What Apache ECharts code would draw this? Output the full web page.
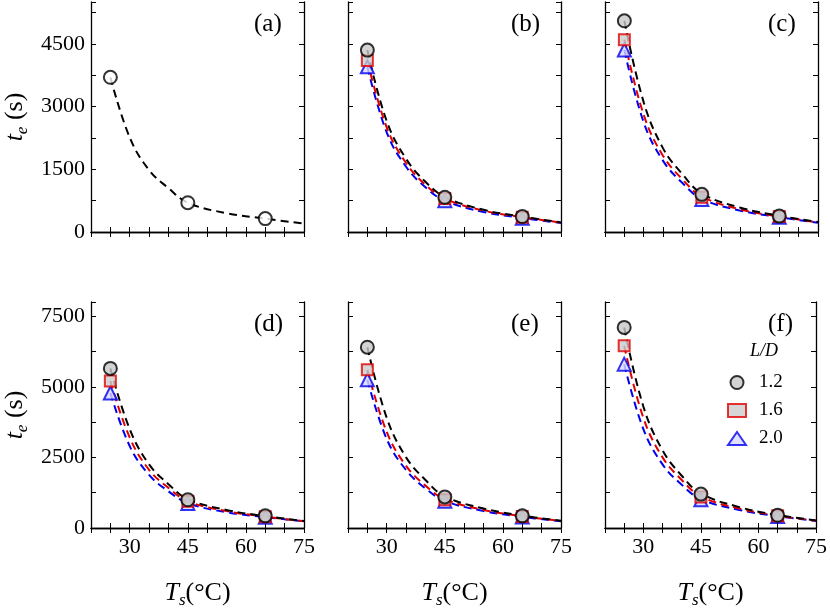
<!DOCTYPE html>
<html><head><meta charset="utf-8">
<script src="https://cdn.jsdelivr.net/npm/echarts@6/dist/echarts.min.js"></script>
<style>html,body{margin:0;padding:0;background:#fff}#c{width:830px;height:610px}</style>
</head><body><div id="c"></div>
<script>
const ptX = [25, 45, 65];
const curveX = [25, 30, 35, 40, 45, 55, 65, 75];
const panels = ['(a)', '(b)', '(c)', '(d)', '(e)', '(f)'];
const seriesNames = ['1.2', '1.6', '2.0'];
// points per panel: [L/D 1.2, 1.6, 2.0]
const pts = [
  [[3700, 700, 320]],
  [[4350, 830, 370], [4100, 800, 350], [3950, 750, 330]],
  [[5050, 900, 380], [4600, 830, 370], [4350, 780, 350]],
  [[5650, 1000, 430], [5200, 950, 400], [4780, 870, 380]],
  [[6400, 1100, 430], [5600, 1000, 410], [5250, 950, 390]],
  [[7100, 1200, 450], [6450, 1100, 430], [5800, 1000, 410]]
];
const curves = [
  [[3700, 2260, 1480, 1050, 700, 450, 320, 200]],
  [[4350, 2650, 1750, 1200, 840, 530, 370, 230], [4100, 2500, 1650, 1130, 800, 510, 355, 225], [3950, 2380, 1560, 1070, 750, 480, 335, 215]],
  [[5050, 3100, 2000, 1380, 920, 580, 390, 240], [4600, 2800, 1820, 1260, 850, 540, 370, 230], [4350, 2620, 1700, 1170, 790, 510, 355, 220]],
  [[5650, 3500, 2250, 1550, 1020, 640, 420, 250], [5200, 3200, 2060, 1420, 950, 600, 400, 240], [4780, 2900, 1880, 1300, 880, 560, 385, 235]],
  [[6400, 3900, 2500, 1700, 1120, 690, 440, 260], [5600, 3400, 2200, 1500, 1020, 640, 415, 250], [5250, 3150, 2050, 1400, 960, 600, 395, 240]],
  [[7100, 4300, 2750, 1850, 1220, 740, 460, 270], [6450, 3900, 2500, 1700, 1120, 690, 440, 260], [5800, 3500, 2250, 1530, 1020, 640, 420, 250]]
];
const FONT = 'Liberation Serif';
const lineColors = ['#000', '#e00000', '#0000ee'];
const symbols = ['circle', 'rect', 'triangle'];
const fills = ['#c8c8c8', '#cccccc', '#d8d8ff'];
const lefts = [91, 348, 605], tops = [2, 302];
const W = 213, H = 230;
const grids = [], xAxes = [], yAxes = [], series = [], graphics = [];
const axisLine = {show: true, lineStyle: {color: '#000', width: 1.3}};
for (let p = 0; p < 6; p++) {
  const row = Math.floor(p / 3), col = p % 3;
  grids.push({left: lefts[col], top: tops[row], width: W, height: H});
  const showX = row === 1, showY = col === 0;
  const ymax = row === 0 ? 5500 : 8000, yint = row === 0 ? 750 : 1250, ylab = row === 0 ? 1500 : 2500;
  const xBase = {type: 'value', gridIndex: p, min: 20, max: 75, interval: 5, splitLine: {show: false},
    axisLine, axisTick: {inside: true, length: 5, lineStyle: {color: '#000'}}};
  xAxes.push(Object.assign({}, xBase, {position: 'bottom',
    axisLabel: {show: showX, fontFamily: FONT, fontSize: 22, color: '#000', margin: 8,
      formatter: v => (v % 15 === 0 && v >= 30) ? String(v) : ''},
    name: showX ? '{i|T}{s|s}{n|(°C)}' : '', nameLocation: 'middle', nameGap: 50,
    nameTextStyle: {rich: {i: {fontFamily: FONT, fontStyle: 'italic', fontSize: 26, color: '#000'},
      s: {fontFamily: FONT, fontStyle: 'italic', fontSize: 17, verticalAlign: 'bottom', padding: [14, 0, 0, 0], color: '#000'},
      n: {fontFamily: FONT, fontSize: 26, color: '#000'}}}}));
  xAxes.push(Object.assign({}, xBase, {position: 'top', axisLabel: {show: false}}));
  const yBase = {type: 'value', gridIndex: p, min: 0, max: ymax, interval: yint, splitLine: {show: false},
    axisLine, axisTick: {inside: true, length: 5, lineStyle: {color: '#000'}}};
  yAxes.push(Object.assign({}, yBase, {position: 'left',
    axisLabel: {show: showY, fontFamily: FONT, fontSize: 22, color: '#000', margin: 6,
      formatter: v => v % ylab === 0 ? String(v) : ''},
    name: showY ? '{i|t}{s|e}{n| (s)}' : '', nameLocation: 'middle', nameGap: 60, nameRotate: 90,
    nameTextStyle: {rich: {i: {fontFamily: FONT, fontStyle: 'italic', fontSize: 26, color: '#000'},
      s: {fontFamily: FONT, fontStyle: 'italic', fontSize: 17, padding: [14, 0, 0, 0], color: '#000'},
      n: {fontFamily: FONT, fontSize: 26, color: '#000'}}}}));
  yAxes.push(Object.assign({}, yBase, {position: 'right', axisLabel: {show: false}}));
  const xi = p * 2, yi = p * 2;
  for (let s = 0; s < curves[p].length; s++) {
    series.push({type: 'line', xAxisIndex: xi, yAxisIndex: yi, smooth: 0.4, showSymbol: false, silent: true,
      data: curveX.map((x, i) => [x, curves[p][s][i]]),
      lineStyle: {color: lineColors[s], width: 2, type: [8, 5]}, z: 2 + (2 - s)});
    series.push({type: 'scatter', name: p === 5 ? seriesNames[s] : undefined, xAxisIndex: xi, yAxisIndex: yi,
      symbol: symbols[s], symbolSize: s === 1 ? 11 : 13,
      data: ptX.map((x, i) => [x, pts[p][s][i]]),
      itemStyle: {color: p === 0 ? '#fff' : fills[s], borderColor: lineColors[s], borderWidth: 2}, z: 5 + (2 - s)});
  }
  graphics.push({type: 'text', left: lefts[col] + W - 50, top: tops[row] + 10,
    style: {text: panels[p], font: '25px "Liberation Serif"', fill: '#000'}});
}
graphics.push({type: 'text', left: 750, top: 342, style: {text: 'L/D', font: 'italic 18px "Liberation Serif"', fill: '#000'}});
const chart = echarts.init(document.getElementById('c'));
chart.setOption({
  animation: false,
  grid: grids, xAxis: xAxes, yAxis: yAxes, series,
  legend: {data: seriesNames, orient: 'vertical', left: 722, top: 368, itemGap: 9, itemWidth: 18, itemHeight: 13,
    textStyle: {fontFamily: FONT, fontSize: 19, color: '#000', padding: [0, 0, 0, 8]}},
  graphic: graphics
});
</script></body></html>
